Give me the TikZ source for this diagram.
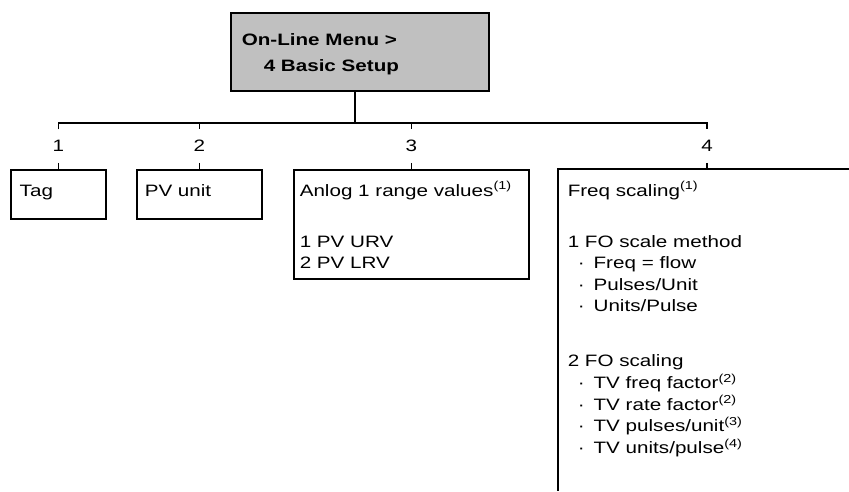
\documentclass[tikz,border=0pt]{standalone}
\usepackage{fontspec}
\setmainfont{Liberation Sans}[FakeStretch=1.25]
\definecolor{boxgray}{RGB}{192,192,192}
\begin{document}
\begin{tikzpicture}[x=1pt,y=-1pt,line width=1.5pt,
  box/.style={draw,line width=1.6pt,anchor=north west,inner sep=0pt},
  txt/.style={anchor=base west,inner sep=0pt,font=\fontsize{16.5}{19}\selectfont},
  num/.style={inner sep=0pt,minimum height=32pt,font=\fontsize{16.5}{19}\selectfont}]
\useasboundingbox (0,0) rectangle (849,491);
% top box
\node[box,fill=boxgray,minimum width=258pt,minimum height=78pt] (top) at (230,12) {};
\node[txt,font=\fontsize{16.5}{19}\selectfont\bfseries] (t1) at (241,45) {On-Line Menu >};
\node[txt,font=\fontsize{16.5}{19}\selectfont\bfseries] (t2) at (263,71) {4 Basic Setup};
% hub line
\coordinate (hub) at (355,123);
\draw (top.south -| hub) -- (hub);
% boxes
\node[box,minimum width=95pt,minimum height=49pt] (b1) at (10,169) {};
\node[box,minimum width=125pt,minimum height=49pt] (b2) at (136,169) {};
\node[box,minimum width=235pt,minimum height=109pt] (b3) at (293,169) {};
\coordinate (b4top) at (707,169);
\coordinate (b4tr) at (849,169);
\coordinate (b4tl) at (558,169);
\coordinate (b4bl) at (558,491);
\draw[line width=1.6pt] (b4tr) -- (b4tl) -- (b4bl);
% numbers
\node[num] (n1) at (b1.north |- 0,146) {1};
\node[num] (n2) at (b2.north |- 0,146) {2};
\node[num] (n3) at (b3.north |- 0,146) {3};
\node[num] (n4) at (707,146) {4};
\draw (n1.north) -- (n1.north |- hub) -- (n4.north |- hub) -- (n4.north);
\draw (n2.north |- hub) -- (n2.north);
\draw (n3.north |- hub) -- (n3.north);
\draw (n1.south) -- (b1.north);
\draw (n2.south) -- (b2.north);
\draw (n3.south) -- (b3.north);
\draw (n4.south) -- (b4top);
% texts
\node[txt] (x1) at (19,196) {Tag};
\node[txt] (x2) at (144,196) {PV unit};
\node[txt] (x3a) at (299,196) {Anlog 1 range values\textsuperscript{(1)}};
\node[txt] (x3b) at (299,247) {1 PV URV};
\node[txt] (x3c) at (299,268.5) {2 PV LRV};
\node[txt] (x4a) at (567,196) {Freq scaling\textsuperscript{(1)}};
\node[txt] (x4b) at (567,247) {1 FO scale method};
\node[txt] (x4c) at (577,268.5) {·\hspace{9pt}Freq = flow};
\node[txt] (x4d) at (577,290) {·\hspace{9pt}Pulses/Unit};
\node[txt] (x4e) at (577,311.7) {·\hspace{9pt}Units/Pulse};
\node[txt] (x4f) at (567,366.7) {2 FO scaling};
\node[txt] (x4g) at (577,388.3) {·\hspace{9pt}TV freq factor\textsuperscript{(2)}};
\node[txt] (x4h) at (577,410) {·\hspace{9pt}TV rate factor\textsuperscript{(2)}};
\node[txt] (x4i) at (577,431.7) {·\hspace{9pt}TV pulses/unit\textsuperscript{(3)}};
\node[txt] (x4j) at (577,453.3) {·\hspace{9pt}TV units/pulse\textsuperscript{(4)}};
\end{tikzpicture}
\end{document}
